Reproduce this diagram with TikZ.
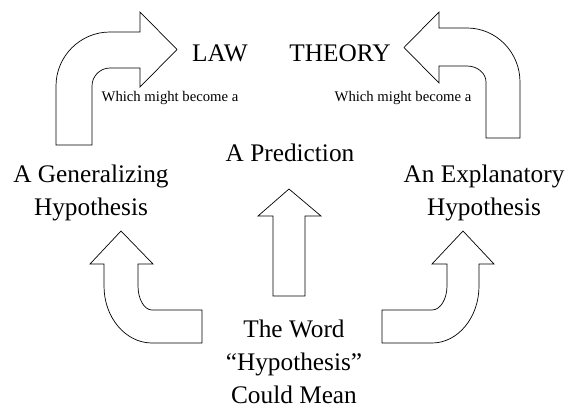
\documentclass[tikz,border=0pt]{standalone}
\usepackage{fontspec}
\setmainfont{Liberation Serif}
\tikzset{
  block/.style = {draw=black, fill=white, line width=0.7pt, line join=miter},
  big/.style = {inner sep=0pt, anchor=base, align=center,
                font=\fontsize{25.3}{33}\selectfont},
  small/.style = {inner sep=0pt, anchor=base,
                  font=\fontsize{14.7}{17}\selectfont}
}

\begin{document}
\begin{tikzpicture}[x=1pt, y=-1pt]
	\useasboundingbox (0,0) rectangle (570,407);

	% Upper bent arrows
	\draw[block] (56,145) -- (56,86) .. controls (56,56.2) and (80.2,32) .. (110,32)
		-- (140,32) -- (140,12) -- (177,49.5) -- (140,87) -- (140,68) -- (110,68)
		.. controls (100.1,68) and (92,76.1) .. (92,86) -- (92,145) -- cycle; % to law
	\draw[block] (520,138) -- (520,82) .. controls (520,52.2) and (496.3,28) .. (467,28)
		-- (439,28) -- (439,12) -- (404,47.5) -- (439,83) -- (439,66) -- (467,66)
		.. controls (477.5,66) and (486,73.2) .. (486,82) -- (486,138) -- cycle; % to theory

	% Lower bent arrows
	\draw[block] (121,231) -- (153,264) -- (138,264) -- (138,286)
		.. controls (138,299.2) and (144.3,310) .. (152,310) -- (202,310) -- (202,343)
		-- (152,343) .. controls (125.5,343) and (104,317.5) .. (104,286)
		-- (104,264) -- (90,264) -- cycle;
	\draw[block] (463,231) -- (494,264) -- (479,264) -- (479,286)
		.. controls (479,317.5) and (457.9,343) .. (432,343) -- (382,343) -- (382,310)
		-- (432,310) .. controls (440.3,310) and (447,299.2) .. (447,286)
		-- (447,264) -- (432,264) -- cycle;

	% Straight arrow
	\draw[block] (289,189) -- (321,216) -- (305,216) -- (305,296) -- (273,296)
		-- (273,216) -- (258,216) -- cycle;

	% Labels (base = last line)
	\node[big] (law) at (220,61) {LAW};
	\node[big] (theory) at (340,61) {THEORY};
	\node[small] (becomeL) at (170,101) {Which might become a};
	\node[small] (becomeR) at (403,101) {Which might become a};
	\node[big] (predict) at (290,161) {A Prediction};
	\node[big] (general) at (91,215) {A Generalizing\\Hypothesis};
	\node[big] (explain) at (484,215) {An Explanatory\\Hypothesis};
	\node[big] (word) at (294,403) {The Word\\``Hypothesis''\\Could Mean};
\end{tikzpicture}
\end{document}
